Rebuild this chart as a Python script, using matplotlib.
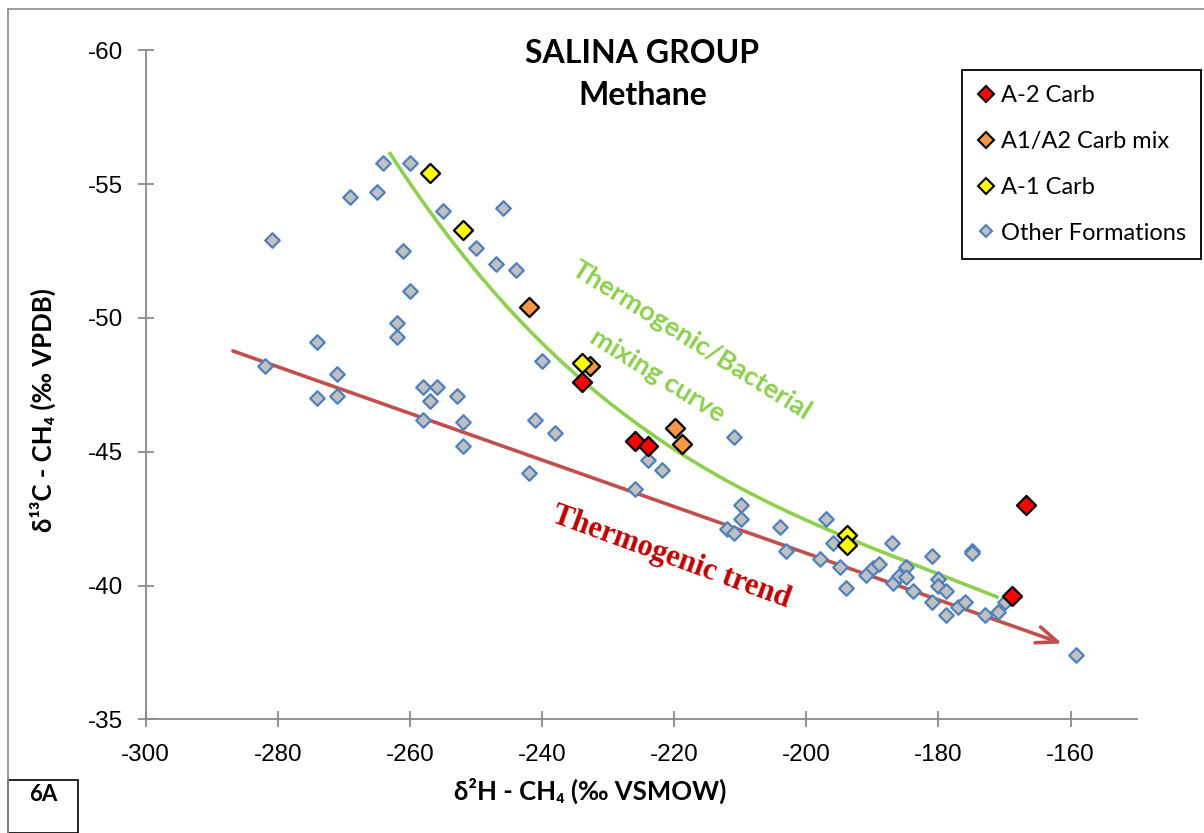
import numpy as np
import matplotlib.pyplot as plt
from matplotlib.patches import Rectangle
from matplotlib.lines import Line2D

plt.rcParams['font.family'] = ['Lato', 'DejaVu Sans']
plt.rcParams['axes.unicode_minus'] = False

# other formations
other_x = [-264.1, -260.0, -269.1, -265.0, -280.9, -261.1, -255.0, -245.9, -250.0, -247.0,
           -244.0, -260.0, -262.0, -262.0, -274.1, -240.0, -281.9, -271.0, -271.0, -274.1,
           -258.0, -255.9, -257.0, -252.9, -258.0, -252.0, -252.0, -242.0, -241.1, -238.0,
           -224.0, -221.9, -225.9, -211.0, -209.9, -209.9, -212.0, -211.0, -204.0, -203.1,
           -197.0, -196.0, -197.9, -194.9, -194.0, -191.0, -189.9, -189.0, -187.0, -186.9,
           -186.0, -184.9, -184.9, -183.9, -181.0, -181.0, -180.1, -180.0, -178.9, -178.9,
           -177.1, -176.0, -174.9, -174.9, -173.0, -171.0, -169.9, -159.2]
other_y = [-55.8, -55.8, -54.5, -54.7, -52.9, -52.5, -54.0, -54.1, -52.6, -52.0,
           -51.8, -51.0, -49.8, -49.3, -49.1, -48.4, -48.2, -47.9, -47.1, -47.0,
           -47.4, -47.4, -46.9, -47.1, -46.2, -46.1, -45.2, -44.2, -46.2, -45.7,
           -44.7, -44.3, -43.6, -45.55, -43.0, -42.5, -42.1, -41.95, -42.2, -41.3,
           -42.5, -41.6, -41.0, -40.7, -39.9, -40.4, -40.65, -40.8, -41.6, -40.1,
           -40.35, -40.7, -40.3, -39.8, -41.1, -39.4, -40.25, -40.0, -39.8, -38.9,
           -39.2, -39.4, -41.3, -41.2, -38.9, -39.0, -39.4, -37.4]

a2_x = [-234.0, -225.9, -224.0, -168.9, -166.8]
a2_y = [-47.6, -45.4, -45.2, -39.6, -43.0]

mix_x = [-242.0, -232.8, -219.9, -218.8]
mix_y = [-50.4, -48.2, -45.9, -45.3]

a1_x = [-257.0, -252.0, -234.0, -193.9, -193.9]
a1_y = [-55.4, -53.3, -48.3, -41.9, -41.5]

# mixing curve
curve_x = [-263.0, -255.5, -247.9, -237.75, -234.3, -219.1, -204.0, -193.9, -179.8, -171.15]
curve_y = [-56.16, -53.55, -51.0, -48.5, -47.68, -45.2, -42.8, -41.8, -40.3, -39.65]

trend_x = [-287.2, -160.9]
trend_y = [-48.8, -37.8]

W, H = 1204, 833
fig = plt.figure(figsize=(12.04, 8.33), dpi=100)
ax = fig.add_axes([145.7 / W, 1 - 719.3 / H, (1136.7 - 145.7) / W, (719.3 - 50.3) / H])

def fx(px):
    return px / W

def fy(py):
    return 1 - py / H

# frame and panel label box
fig.add_artist(Line2D([fx(8), fx(8)], [fy(9), 0], color='#8c8c8c', lw=1.2))
fig.add_artist(Line2D([fx(8), fx(1204)], [fy(9), fy(9)], color='#8c8c8c', lw=1.2))
fig.add_artist(Rectangle((fx(8), 0), fx(78) - fx(8), fy(780), fill=False, ec='black', lw=1.2))
fig.text(fx(43), fy(801), '6A', ha='center', va='baseline', fontsize=16, fontweight='bold')

gray_ax = '#8a8a8a'
ax.set_xlim(-300, -150)
ax.set_ylim(-35, -60)
ax.set_xticks(np.arange(-300, -150, 20))
ax.set_yticks(np.arange(-60, -34, 5))
for s in ['top', 'right']:
    ax.spines[s].set_visible(False)
for s in ['left', 'bottom']:
    ax.spines[s].set_color(gray_ax)
    ax.spines[s].set_linewidth(1.3)
ax.tick_params(direction='inout', length=12, width=1.3, color=gray_ax)
ax.tick_params(axis='x', pad=12)
ax.tick_params(axis='y', pad=10)
for lab in ax.get_xticklabels() + ax.get_yticklabels():
    lab.set_fontfamily('Liberation Sans')
    lab.set_fontsize(17.5)

# mixing curve
coef = np.polyfit(curve_x, curve_y, 3)
cx = np.linspace(curve_x[0], curve_x[-1], 200)
ax.plot(cx, np.polyval(coef, cx), color='#8dcf4f', lw=2.6, zorder=2)

# thermogenic trend arrow
ax.annotate('', xy=(trend_x[1], trend_y[1]), xytext=(trend_x[0], trend_y[0]),
            arrowprops=dict(arrowstyle='->,head_length=1.5,head_width=0.6',
                            color='#c0504d', lw=2.6), zorder=2)

ax.scatter(other_x, other_y, marker='D', s=55, c='#c0c0c0', edgecolors='#4f81bd',
           linewidths=1.6, zorder=3, label='Other Formations')
ax.scatter(mix_x, mix_y, marker='D', s=95, c='#f79646', edgecolors='black',
           linewidths=1.6, zorder=4, label='A1/A2 Carb mix')
ax.scatter(a1_x, a1_y, marker='D', s=95, c='#ffff00', edgecolors='black',
           linewidths=1.6, zorder=5, label='A-1 Carb')
ax.scatter(a2_x, a2_y, marker='D', s=95, c='#ff0000', edgecolors='black',
           linewidths=1.6, zorder=4, label='A-2 Carb')

handles = [
    Line2D([], [], ls='', marker='D', ms=8.5, mfc='#ff0000', mec='black', mew=1.5),
    Line2D([], [], ls='', marker='D', ms=8.5, mfc='#f79646', mec='black', mew=1.5),
    Line2D([], [], ls='', marker='D', ms=8.5, mfc='#ffff00', mec='black', mew=1.5),
    Line2D([], [], ls='', marker='D', ms=6.5, mfc='#c0c0c0', mec='#4f81bd', mew=1.5),
]
labels = ['A-2 Carb', 'A1/A2 Carb mix', 'A-1 Carb', 'Other Formations']
leg = fig.legend(handles, labels, loc='upper left', bbox_to_anchor=(fx(962), fy(70)),
                 frameon=True, fancybox=False, framealpha=1, edgecolor='black',
                 fontsize=17, handlelength=0.7, handletextpad=0.3, labelspacing=1.05,
                 borderpad=0.65, borderaxespad=0)
leg.get_frame().set_linewidth(1.3)

# titles and labels
fig.text(fx(642), fy(63), 'SALINA GROUP', ha='center', va='baseline', fontsize=23, fontweight='bold')
fig.text(fx(643), fy(105), 'Methane', ha='center', va='baseline', fontsize=23, fontweight='bold')
fig.text(fx(590), fy(800), 'δ²H - CH₄ (‰ VSMOW)', ha='center', va='baseline',
         fontsize=18.5, fontweight='bold')
fig.text(fx(52), fy(410), 'δ¹³C - CH₄ (‰ VPDB)', ha='center', va='baseline', rotation=90,
         rotation_mode='anchor', fontsize=18.5, fontweight='bold')

fig.text(fx(692), fy(340), 'Thermogenic/Bacterial', ha='center', va='center', rotation=-32,
         rotation_mode='anchor', fontsize=19.5, fontweight='bold', color='#8dcf4f')
fig.text(fx(658), fy(376), 'mixing curve', ha='center', va='center', rotation=-32,
         rotation_mode='anchor', fontsize=19.5, fontweight='bold', color='#8dcf4f')
fig.text(fx(671), fy(557), 'Thermogenic trend', ha='center', va='center', rotation=-20,
         rotation_mode='anchor', fontsize=22, fontweight='bold', color='#c00000',
         family='Liberation Serif')

fig.savefig('out.png', dpi=100)
